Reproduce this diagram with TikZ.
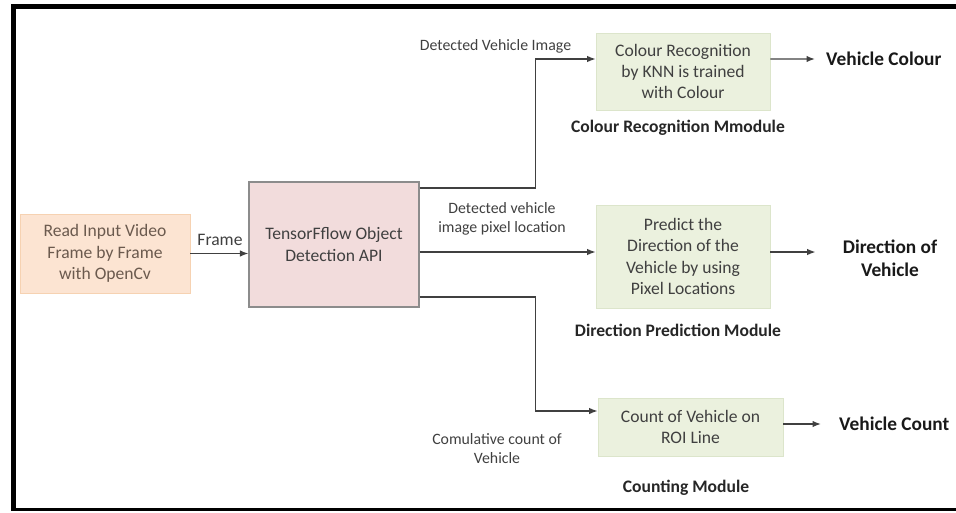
\documentclass[tikz,border=0pt]{standalone}
\usepackage{fontspec}
\setmainfont{Carlito}
\usetikzlibrary{arrows.meta,calc}
\definecolor{ink}{HTML}{404040}
\definecolor{orangefill}{HTML}{FCE4D2}
\definecolor{orangeline}{HTML}{F6D2B2}
\definecolor{browntext}{HTML}{6B5A4E}
\definecolor{pinkfill}{HTML}{F2DCDC}
\definecolor{pinkline}{HTML}{8C8C8C}
\definecolor{greenfill}{HTML}{EBF1DE}
\definecolor{greenline}{HTML}{DCE5CB}

\begin{document}
\begin{tikzpicture}[>={Latex[length=1.7mm,width=1.3mm]},line join=miter,
  inbox/.style={draw=orangeline,fill=orangefill,text=browntext,align=center,
    font=\fontsize{10}{12.2}\selectfont,minimum width=3.4cm,minimum height=1.58cm},
  apibox/.style={draw=pinkline,fill=pinkfill,text=ink,align=center,line width=.6pt,
    font=\fontsize{10}{12}\selectfont,minimum width=3.4cm,minimum height=2.5cm},
  modbox/.style={draw=greenline,fill=greenfill,text=ink,align=center,
    font=\fontsize{10}{12}\selectfont,minimum width=3.48cm},
  modlabel/.style={text=black!85,font=\fontsize{10}{12}\selectfont\bfseries},
  outlabel/.style={text=black!90,align=center,font=\fontsize{11}{13}\selectfont\bfseries},
  edgelabel/.style={text=ink,align=center,font=\fontsize{9}{11}\selectfont},
  flow/.style={->,draw=ink,line width=.8pt}]
  \useasboundingbox (0,0) rectangle (19.12,10.24);

  % outer frame
  \draw[line width=.11cm] (19.3,10.11) -| (.27,.04);
  \draw[line width=.05cm] (.22,.05) -- (19.3,.05);

  % input and detector
  \node[inbox] (read) at (2.10,5.17) {Read Input Video\\Frame by Frame\\with OpenCv};
  \node[apibox] (api) at (6.68,5.35) {TensorFflow Object\\Detection API};
  \node[edgelabel,font=\fontsize{10}{12}\selectfont] (framelab) at (4.40,5.44) {Frame};

  % modules
  \node[modbox,minimum height=1.54cm] (colour) at (13.66,8.81)
    {Colour Recognition\\by KNN is trained\\with Colour};
  \node[modbox,minimum height=2.06cm] (direction) at (13.66,5.11)
    {Predict the\\Direction of the\\Vehicle by using\\Pixel Locations};
  \node[modbox,minimum width=3.7cm,minimum height=1.16cm] (count) at (13.81,1.70)
    {Count of Vehicle on\\ROI Line};

  \node[modlabel] (colourlab) at (13.56,7.68) {Colour Recognition Mmodule};
  \node[modlabel] (directionlab) at (13.56,3.64) {Direction Prediction Module};
  \node[modlabel] (countlab) at (13.72,.48) {Counting Module};

  % outputs
  \node[outlabel,anchor=west] (vcolour) at (16.40,9.06) {Vehicle Colour};
  \node[outlabel] (vdirection) at (17.80,5.07) {Direction of\\Vehicle};
  \node[outlabel,anchor=west] (vcount) at (16.66,1.76) {Vehicle Count};

  % branch labels
  \node[edgelabel] (imglab) at (9.91,9.32) {Detected Vehicle Image};
  \node[edgelabel] (pixlab) at (10.04,5.86) {Detected vehicle\\image pixel location};
  \node[edgelabel] (cumlab) at (9.94,1.27) {Comulative count of\\Vehicle};

  % connectors
  \draw[flow] (read.east) -- (read.east -| api.west);
  \draw[flow] ([yshift=1.13cm]api.east) -- ++(2.32,0) |- ([yshift=.25cm]colour.west);
  \draw[flow] ([yshift=-.15cm]api.east) -- ([yshift=-.15cm]api.east -| direction.west);
  \draw[flow] ([yshift=-1.05cm]api.east) -- ++(2.32,0) |- ([yshift=.32cm]count.west);
  \draw[flow,shorten >=.1cm] ([yshift=.25cm]colour.east) -- (vcolour.west);
  \draw[flow,shorten >=.42cm] ([yshift=.09cm]direction.east)
    -- ([yshift=.09cm]direction.east -| vdirection.west);
  \draw[flow,shorten >=.24cm] ([yshift=.06cm]count.east) -- (vcount.west);
\end{tikzpicture}
\end{document}
